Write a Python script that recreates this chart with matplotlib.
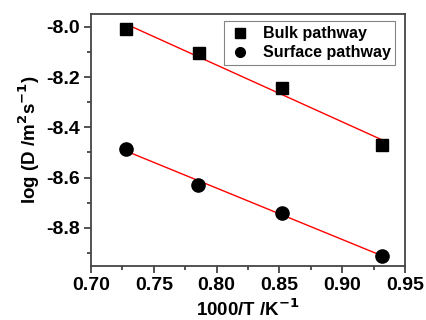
import numpy as np
import matplotlib
matplotlib.use('Agg')
import matplotlib.pyplot as plt
from matplotlib.ticker import MultipleLocator

plt.rcParams['font.family'] = ['Liberation Sans', 'DejaVu Sans']
plt.rcParams['font.weight'] = 'bold'
plt.rcParams['mathtext.default'] = 'bf'

# Data
invT = [0.728, 0.786, 0.852, 0.932]
bulk = [-8.01, -8.105, -8.245, -8.47]
surfX = [0.728, 0.785, 0.852, 0.932]
surface = [-8.485, -8.629, -8.74, -8.912]

fig = plt.figure(figsize=(4.26, 3.2), dpi=100)
ax = fig.add_axes([91 / 426, 1 - 266 / 320, (405 - 91) / 426, (266 - 13.5) / 320])

ax.plot(invT, bulk, 's', color='black', markersize=8.5, label='Bulk pathway', zorder=3)
ax.plot(surfX, surface, 'o', color='black', markersize=9.5, label='Surface pathway', zorder=3)

# Linear fits
for xs, ys in [(invT, bulk), (surfX, surface)]:
    p = np.polyfit(xs, ys, 1)
    xx = np.array([min(xs), max(xs)])
    ax.plot(xx, np.polyval(p, xx), color='red', linewidth=1.0, zorder=2)

ax.set_xlim(0.70, 0.95)
ax.set_ylim(-8.952, -7.947)
ax.xaxis.set_major_locator(MultipleLocator(0.05))
ax.xaxis.set_minor_locator(MultipleLocator(0.025))
ax.yaxis.set_major_locator(MultipleLocator(0.2))
ax.yaxis.set_minor_locator(MultipleLocator(0.1))
ax.xaxis.set_major_formatter(matplotlib.ticker.FormatStrFormatter('%.2f'))
ax.yaxis.set_major_formatter(matplotlib.ticker.FormatStrFormatter('%.1f'))

for s in ax.spines.values():
    s.set_color('#444444')
    s.set_linewidth(1.3)
ax.tick_params(which='both', direction='out', top=False, right=False,
               color='#444444', width=1.3, labelsize=14, pad=3)
ax.tick_params(which='major', length=5)
ax.tick_params(which='minor', length=3)
for lab in ax.get_xticklabels() + ax.get_yticklabels():
    lab.set_fontweight('bold')

ax.set_xlabel('1000/T /K$^{-1}$', fontsize=13.5, fontweight='bold', labelpad=3)
ax.set_ylabel('log (D /m$^{2}$s$^{-1}$)', fontsize=13.5, fontweight='bold', labelpad=3)

leg = ax.legend(loc='upper right', fontsize=11.5, frameon=True, fancybox=False,
                edgecolor='#666666', handletextpad=0.7, borderpad=0.3,
                labelspacing=0.25, handlelength=1.4, bbox_to_anchor=(0.995, 1.0))
leg.get_frame().set_linewidth(0.8)
for t in leg.get_texts():
    t.set_fontweight('bold')
for h in leg.legend_handles:
    h.set_markersize(7)

fig.savefig('out.png', dpi=100)
